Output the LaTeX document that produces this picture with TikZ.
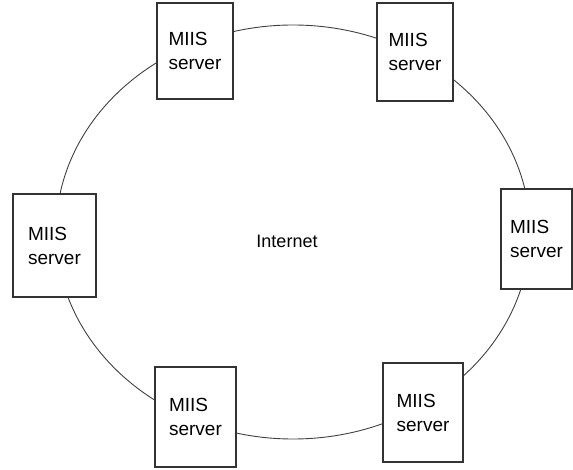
\documentclass[tikz,border=0pt]{standalone}
\usepackage{fontspec}
\setmainfont{Liberation Sans}
\begin{document}
\begin{tikzpicture}[x=1pt,y=-1pt,
  srv/.style={draw=black!80,line width=1.3pt,fill=white,inner sep=0pt,
    align=left,font=\fontsize{19}{24}\selectfont},
  ring/.style={draw=black!75,line width=0.9pt},
  lbl/.style={font=\fontsize{18}{22}\selectfont}]
\useasboundingbox (0,0) rectangle (573,470);
\coordinate (c) at (293,232);
\draw[ring] (c) ellipse [x radius=237, y radius=207];
\node[srv,minimum width=76,minimum height=96] (s1) at (195,51) {MIIS\\server};
\node[srv,minimum width=76,minimum height=98] (s2) at (415,52) {MIIS\\server};
\node[srv,minimum width=83,minimum height=103] (s3) at (54.5,245.5) {MIIS\\server};
\node[srv,minimum width=71,minimum height=100] (s4) at (536.5,239) {MIIS\\server};
\node[srv,minimum width=81,minimum height=100] (s5) at (195.5,417) {MIIS\\server};
\node[srv,minimum width=80,minimum height=99] (s6) at (423,412.5) {MIIS\\server};
\node[lbl] (net) at (287,241) {Internet};
\end{tikzpicture}
\end{document}
